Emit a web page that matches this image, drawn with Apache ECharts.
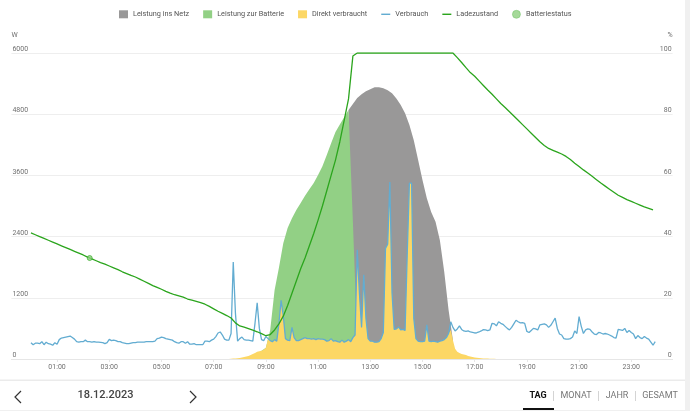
<!DOCTYPE html>
<html>
<head>
<meta charset="utf-8">
<title>Tagesansicht</title>
<style>
  html, body { margin: 0; padding: 0; background: #fff; }
  #main { width: 690px; height: 411px; }
</style>
<script src="https://cdn.jsdelivr.net/npm/echarts@6/dist/echarts.min.js"></script>
</head>
<body>
<div id="main"></div>
<script>
// Verbrauch in W, one value per 5 minutes, one row per hour
var verbrauch = [
  320,280,310,310,300,340,280,330,300,290,270,320,
  290,380,410,420,430,440,450,420,390,340,330,340,
  340,370,340,340,330,340,330,330,325,320,300,320,
  385,360,370,360,340,340,320,310,300,300,310,320,
  320,330,330,330,330,340,340,340,340,350,400,410,
  430,420,400,390,380,370,340,320,310,340,340,310,
  340,290,290,300,280,280,280,280,350,350,340,370,
  390,440,510,530,470,390,370,370,500,1900,900,350,
  400,430,380,370,370,360,350,700,1100,600,380,360,
  440,400,360,340,380,350,700,1150,850,400,370,360,
  620,420,360,360,380,400,420,400,400,390,400,380,
  400,390,390,380,350,360,400,350,360,340,330,370,
  330,350,380,340,420,470,2140,1300,620,1650,800,400,
  350,350,330,330,340,400,520,2170,2250,3470,1300,580,
  590,630,570,580,560,2070,3450,3450,800,400,350,340,
  340,350,670,350,340,350,340,330,350,360,380,420,
  500,730,620,550,590,650,580,550,540,550,530,520,
  510,515,530,550,575,570,555,570,700,690,650,730,
  700,680,640,600,570,620,690,760,730,710,715,700,
  540,520,560,600,590,570,670,680,690,670,620,660,
  730,800,600,490,470,400,390,390,400,430,550,500,
  830,640,500,570,590,580,530,490,480,520,510,490,
  500,490,470,450,420,410,580,570,560,600,520,560,
  520,490,400,460,420,400,440,410,390,330,270,340
];

// Direkt verbraucht in W, 5 minute steps starting at 07:30
var direktStart = 90;
var direkt = [
  0,0,5,10,10,15,
  20,30,40,50,60,80,100,120,140,150,160,180,
  220,400,360,340,380,350,700,1150,850,400,370,360,
  620,420,360,360,380,400,420,400,400,390,400,380,
  400,390,390,380,350,360,400,350,360,340,330,370,
  330,350,380,340,420,470,2140,1300,620,1650,800,400,
  350,350,330,330,340,400,520,2170,2250,3470,1300,580,
  590,630,570,580,560,2070,3450,3450,800,400,350,340,
  340,350,670,350,340,350,340,330,350,360,380,420,
  500,570,370,200,140,120,100,90,80,60,50,40,
  30,25,20,15,10,10,10,5,5,5,0,0
];

// Leistung zur Batterie, top of the area in W, 10 minute steps starting at 08:50
var batterieStart = 53;
var batterie = [
  160,220,570,1350,1790,2270,2570,2760,2920,3060,3200,3330,3450,3610,3780,
  4000,4230,4450,4600,4740,4880,2700,350
];

// Leistung ins Netz, top of the area in W, 10 minute steps starting at 12:10
var netzStart = 73;
var netz = [
  4880,5000,5120,5190,5250,5290,5330,5330,5310,5270,5210,5110,4980,4820,
  4590,4290,3900,3510,3150,2880,2690,2330,1710,960,370
];

// Ladezustand in %, 10 minute steps
var ladezustand = [
  41.2,40.6,40.0,39.4,38.8,38.2,
  37.6,37.0,36.4,35.8,35.2,34.6,
  34.0,33.3,32.7,32.1,31.5,31.0,
  30.4,29.8,29.2,28.5,27.9,27.3,
  26.8,26.1,25.4,24.7,24.0,23.4,
  22.8,22.1,21.5,21.0,20.6,20.2,
  19.6,19.2,18.8,18.4,17.9,17.2,
  16.4,15.6,14.9,14.2,13.4,11.8,
  10.8,10.4,9.9,9.4,8.9,8.3,
  7.6,8.0,9.5,11.5,14,17.5,
  21.5,25.5,29.5,33,37,41,
  45.4,50,55,60,65,71,
  78,85,99,100,100,100,
  100,100,100,100,100,100,
  100,100,100,100,100,100,
  100,100,100,100,100,100,
  100,100,98.5,96.9,95.2,93.6,
  92.4,90.9,89.4,87.9,86.5,85,
  83.5,82.2,80.8,79.4,78.0,76.6,
  75.2,73.8,72.4,71,69.8,68.8,
  68.2,67.6,67,66.2,65.2,64,
  62.9,61.8,60.8,59.7,58.6,57.5,
  56.5,55.5,54.5,53.5,52.8,52.1,
  51.5,50.9,50.3,49.7,49.2,48.7
];

// Batteriestatus marker: 5 minute slot and %
var batteriestatus = [[27, 33]];

var wattTicks = [0, 1200, 2400, 3600, 4800, 6000];
var percentTicks = [0, 20, 40, 60, 80, 100];
var datum = '18.12.2023';
var zeitraum = ['TAG', 'MONAT', 'JAHR', 'GESAMT'];

// the axis line runs a little past the day on both sides
var padLeft = 9, padRight = 8;
var categories = [];
for (var c = -padLeft; c < 288 + padRight; c++) {
  if (c < 0 || c >= 288) { categories.push(''); continue; }
  var hh = Math.floor(c / 12), mm = (c % 12) * 5;
  categories.push((hh < 10 ? '0' : '') + hh + ':' + (mm < 10 ? '0' : '') + mm);
}
function isOddHour(name) {
  return name !== '' && name.slice(3) === '00' && parseInt(name.slice(0, 2), 10) % 2 === 1;
}
function pairs(values, start, step) {
  return values.map(function (v, i) { return [padLeft + start + i * step, v]; });
}

var GRAU = '#999898', GRUEN = '#92d085', GELB = '#fcd765', BLAU = '#62acd1', LINIE = '#2ba51d';
var TEXT = '#707070', FONT = 'Roboto';

function areaSeries(name, color, data, z) {
  return {
    name: name, type: 'line', data: data, z: z, showSymbol: false, symbol: 'none',
    itemStyle: { color: color },
    lineStyle: { width: 0, color: color },
    areaStyle: { color: color, opacity: 1 }
  };
}

var chart = echarts.init(document.getElementById('main'), null, { renderer: 'canvas' });
var labelX = [
  { x: 538, text: zeitraum[0], weight: 'bold', color: '#111' },
  { x: 576, text: zeitraum[1], weight: 'normal', color: '#777' },
  { x: 617, text: zeitraum[2], weight: 'normal', color: '#777' },
  { x: 660, text: zeitraum[3], weight: 'normal', color: '#777' }
];
var graphics = [
  { type: 'rect', shape: { x: 685, y: 0, width: 5, height: 411 }, style: { fill: '#f0f0f0' }, silent: true },
  { type: 'rect', shape: { x: 0, y: 379.5, width: 685, height: 1.5 }, style: { fill: '#ebebeb' }, silent: true },
  { type: 'rect', shape: { x: 0, y: 410, width: 685, height: 1 }, style: { fill: '#f0f0f0' }, silent: true },
  { type: 'rect', shape: { x: 523, y: 408, width: 31, height: 2 }, style: { fill: '#111' }, silent: true },
  { type: 'polyline', shape: { points: [[21, 391], [15, 397], [21, 403]] }, style: { stroke: '#333', lineWidth: 1.2, fill: null } },
  { type: 'polyline', shape: { points: [[190, 391], [196, 397], [190, 403]] }, style: { stroke: '#333', lineWidth: 1.2, fill: null } },
  { type: 'text', x: 105.5, y: 395.5, style: { text: datum, fill: '#444', font: '500 11px Roboto', align: 'center', verticalAlign: 'middle' } }
];
[553, 598, 635].forEach(function (x) {
  graphics.push({ type: 'rect', shape: { x: x, y: 391, width: 1, height: 10 }, style: { fill: '#d4d4d4' }, silent: true });
});
labelX.forEach(function (l) {
  graphics.push({ type: 'text', x: l.x, y: 396, style: { text: l.text, fill: l.color, font: l.weight + ' 9px Roboto', align: 'center', verticalAlign: 'middle' } });
});

var option = {
  animation: false,
  textStyle: { fontFamily: FONT },
  legend: {
    top: 5, left: 114, itemGap: 14, itemWidth: 9, itemHeight: 8,
    textStyle: { fontSize: 7.3, color: '#555', fontFamily: FONT },
    selectedMode: false,
    data: [
      { name: 'Leistung ins Netz', icon: 'rect' },
      { name: 'Leistung zur Batterie', icon: 'rect' },
      { name: 'Direkt verbraucht', icon: 'rect' },
      { name: 'Verbrauch', icon: 'path://M0 4h10v1.6h-10z' },
      { name: 'Ladezustand', icon: 'path://M0 4h10v1.6h-10z' },
      { name: 'Batteriestatus', icon: 'circle', itemStyle: { color: '#8fd07f', borderColor: '#6cc060', borderWidth: 0.6 } }
    ]
  },
  grid: { left: 11.4, top: 53, width: 661.2, height: 306, containLabel: false },
  xAxis: {
    type: 'category', data: categories, boundaryGap: false,
    axisLine: { lineStyle: { color: '#e6e6e6' } },
    axisTick: { lineStyle: { color: '#e6e6e6' }, length: 3, interval: function (i, name) { return isOddHour(name); } },
    axisLabel: { color: TEXT, fontSize: 7, margin: 5, fontFamily: FONT, interval: function (i, name) { return isOddHour(name); } },
    splitLine: { show: false }
  },
  yAxis: [
    {
      type: 'value', min: wattTicks[0], max: wattTicks[5], interval: wattTicks[1],
      name: 'W', nameGap: 14, nameTextStyle: { color: TEXT, fontSize: 7, align: 'left' },
      axisLine: { show: false }, axisTick: { show: false },
      axisLabel: {
        inside: true, margin: 1, color: TEXT, fontSize: 7, verticalAlign: 'bottom', fontFamily: FONT,
        formatter: function (v) { return String(v); }
      },
      splitLine: { lineStyle: { color: '#eeeeee' } }
    },
    {
      type: 'value', min: percentTicks[0], max: percentTicks[5], interval: percentTicks[1], position: 'right',
      name: '%', nameGap: 14, nameTextStyle: { color: TEXT, fontSize: 7, align: 'right' },
      axisLine: { show: false }, axisTick: { show: false },
      axisLabel: { inside: true, margin: 1, color: TEXT, fontSize: 7, verticalAlign: 'bottom', fontFamily: FONT },
      splitLine: { show: false }
    }
  ],
  series: [
    areaSeries('Leistung ins Netz', GRAU, pairs(netz, netzStart * 2, 2), 2),
    areaSeries('Leistung zur Batterie', GRUEN, pairs(batterie, batterieStart * 2, 2), 3),
    areaSeries('Direkt verbraucht', GELB, pairs(direkt, direktStart, 1), 4),
    {
      name: 'Verbrauch', type: 'line', data: pairs(verbrauch, 0, 1), z: 5, showSymbol: false, symbol: 'none',
      itemStyle: { color: BLAU }, lineStyle: { color: BLAU, width: 1.3 }
    },
    {
      name: 'Ladezustand', type: 'line', yAxisIndex: 1, data: pairs(ladezustand, 0, 2), z: 6, showSymbol: false, symbol: 'none',
      itemStyle: { color: LINIE }, lineStyle: { color: LINIE, width: 1.3 }
    },
    {
      name: 'Batteriestatus', type: 'scatter', yAxisIndex: 1, z: 7, symbolSize: 5,
      data: batteriestatus.map(function (p) { return [padLeft + p[0], p[1]]; }),
      itemStyle: { color: '#8fd07f', borderColor: LINIE, borderWidth: 0.8 }
    }
  ],
  graphic: { elements: graphics }
};
chart.setOption(option);
</script>
</body>
</html>
